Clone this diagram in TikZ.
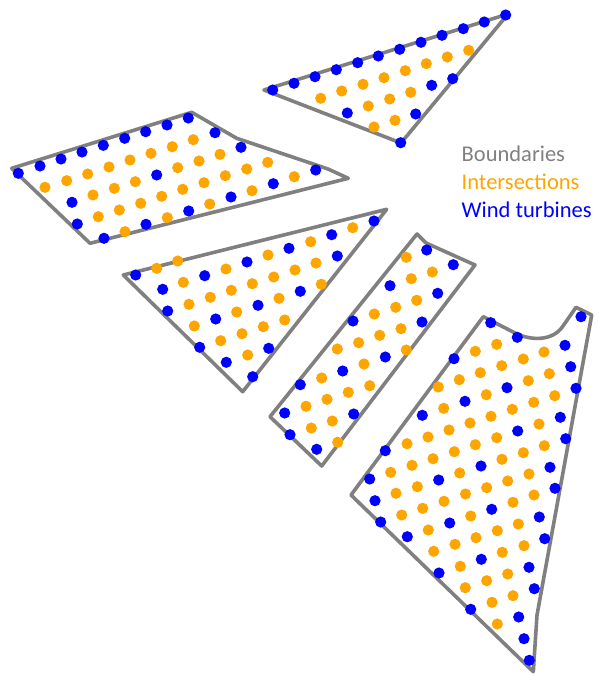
\documentclass[tikz,border=0pt]{standalone}
\usepackage{fontspec}
\setmainfont{Carlito}
\definecolor{bgray}{RGB}{128,128,128}
\definecolor{iorange}{RGB}{255,165,0}
\definecolor{wblue}{RGB}{0,0,255}
\begin{document}
\begin{tikzpicture}[x=1pt,y=-1pt,
  bnd/.style={draw=bgray,line width=3.6pt,line join=round},
  tdot/.style={fill=wblue},
  idot/.style={fill=iorange},
  lbl/.style={anchor=base west,font=\fontsize{22.5}{27}\selectfont,inner sep=0pt}]
\useasboundingbox (0,0) rectangle (598,676);
% boundaries
\draw[bnd] (264,90) -- (508,14) -- (401,143) -- cycle;
\draw[bnd] (11.7,168.3) -- (191.7,112.3) -- (236.7,138.3) -- (328,169) -- (348.3,178.3) -- (90,243.3) -- cycle;
\draw[bnd] (123.3,275) -- (386.7,209.3) -- (242.7,391.7) -- cycle;
\draw[bnd] (417,234) -- (426,243) -- (475,265) -- (321.7,466) -- (270,416.7) -- cycle;
\draw[bnd] (483.3,316.7) -- (516,333.5) .. controls (532,341) and (553,341) .. (563,326) -- (576,307.3) -- (591.7,315) -- (537,615) -- (533.3,671.7) -- (351,495) -- cycle;
% polygon 1
\foreach \p in {(272.7,90),(294,83.3),(315,76.7),(336.3,69.7),(357.7,62.7),(378.3,56),(399.7,49.3),(421,42.3),(442,35.3),(463.3,28.7),(484.3,22),(505.7,15),(347.3,113),(431.7,85.3),(452.7,78.7),(415.7,114),(400.7,142.7)}
  \fill[tdot] \p circle[radius=5.6pt];
\foreach \p in {(320.7,98.3),(341.7,91),(363,84.3),(384,77.7),(405.3,70.7),(426.3,63.7),(447.3,57),(468.7,50.3),(368.3,106),(389.7,99),(410.7,92.3),(374,127),(395,120.3)}
  \fill[idot] \p circle[radius=5.6pt];
% polygon 2
\foreach \p in {(18.3,173.3),(40,166),(61,159),(82,152),(103.3,145.3),(124.7,138.3),(145.7,131.7),(167,125),(188.3,118),(215,132.7),(72,202.3),(156.7,175),(241,147.3),(77.3,224),(104,238.3),(146,224.3),(188.7,211),(231,197),(273.3,183.7),(315.7,170)}
  \fill[tdot] \p circle[radius=5.6pt];
\foreach \p in {(45,187.3),(66.7,180.7),(87.7,174),(109,167),(130,160),(151,153.3),(172.3,146.7),(193.3,139.7),(93,195),(114.3,188.3),(135.3,181.7),(177.7,167.7),(199,161),(220,154.3),(98.3,216.7),(119.3,210),(140.7,203.3),(161.7,196.3),(182.7,189.3),(204,182.7),(225.3,175.7),(246.7,169),(267.7,162.3),(125,231.7),(167.3,217.7),(209.7,204),(252,190.7),(294.3,176.7)}
  \fill[idot] \p circle[radius=5.6pt];
% polygon 3
\foreach \p in {(135.7,275),(162.7,289.3),(204.7,275.7),(247,262),(289,248.3),(331.7,234.7),(374,221),(167.7,311),(337.3,256),(215.7,319),(258,305.3),(300.3,291.3),(199.7,347.3),(226.3,362.3),(268.7,348.3),(252.7,376.7)}
  \fill[tdot] \p circle[radius=5.6pt];
\foreach \p in {(156.7,268.3),(177.7,261),(183.3,282.3),(226,269),(268,255),(310.7,241.7),(352.7,227.7),(189,304.3),(210.3,297.3),(231.3,290.3),(252.3,283.7),(273.7,277),(295,270),(316,263),(194.3,326),(236.7,312),(279,298.3),(321.3,284.3),(220.7,340.7),(242,333.7),(263.3,326.7),(284.7,320),(247.7,355)}
  \fill[idot] \p circle[radius=5.6pt];
% polygon 4
\foreach \p in {(426.7,250),(453.3,264.7),(390,285.7),(437.7,293.3),(353,321),(422,322),(385.3,357),(342.7,371),(300.3,384.7),(284.7,413),(353.7,414),(290,434.7),(316.7,449.3)}
  \fill[tdot] \p circle[radius=5.6pt];
\foreach \p in {(406.3,257.3),(411.3,278.7),(432.3,272),(374.3,314),(395.7,307.3),(416.7,300.3),(358.7,342.7),(379.7,335.3),(401,328.7),(337.3,349),(406.3,350),(364,364),(321.7,378),(369.7,385.7),(348.3,392.3),(327,399.3),(306,406.3),(332.3,421),(311.3,428),(337.7,442.3)}
  \fill[idot] \p circle[radius=5.6pt];
% polygon 5
\foreach \p in {(490.7,322.7),(517.3,337.3),(581,316.7),(454,358.7),(565,345.3),(570.7,366.7),(507,387.7),(465,401.3),(422.3,415.3),(576,388.3),(385.3,450.7),(560.3,417.3),(517.7,431),(369.7,479),(565.7,438.7),(481,466),(438.7,480),(375,500.7),(550,467.3),(380.7,522),(555,488.3),(491.7,509.3),(449.7,523),(407.3,536.7),(539.3,517),(544.7,538.7),(481.3,559.3),(439,573),(529,567.3),(534.3,588.7),(470.7,609.3),(518.7,617),(524,638.7),(529.3,660.3)}
  \fill[tdot] \p circle[radius=5.6pt];
\foreach \p in {(496.7,344.3),(475.3,351.3),(523.3,359),(544,352),(501.7,365.7),(480.3,372.7),(459.3,379.7),(438.3,387),(549.3,373.7),(528.3,380.7),(486.3,394.7),(443.7,408.3),(554.7,395.7),(533.7,402.3),(512.3,409.3),(491,416.3),(470,423),(449,430),(428,437),(407,443.7),(539,424),(496.7,437.7),(475.3,444.7),(454.3,451.7),(433,458.7),(412,465.3),(390.7,472.3),(544.3,445.7),(523.3,452.7),(502,459.3),(459.7,473),(417.3,486.7),(396,493.3),(529,474),(507.7,481),(486.7,487.7),(465.5,494),(444,501.3),(422.7,508.3),(401.7,515),(534,495),(513,502.3),(470.7,516),(428.3,530),(518.3,524),(497.3,530.7),(476,537.7),(455,544.3),(433.7,551.3),(524,545.7),(502.3,552.3),(460.3,566.3),(507.7,574),(486.7,580.7),(465.3,587.7),(513,595.7),(492,602.3),(497.3,624)}
  \fill[idot] \p circle[radius=5.6pt];
% legend
\node[lbl,text=bgray] (lb) at (461.5,161.5) {Boundaries};
\node[lbl,text=iorange] (li) at (461.5,189.5) {Intersections};
\node[lbl,text=wblue] (lw) at (461.5,218) {Wind turbines};
\end{tikzpicture}
\end{document}
